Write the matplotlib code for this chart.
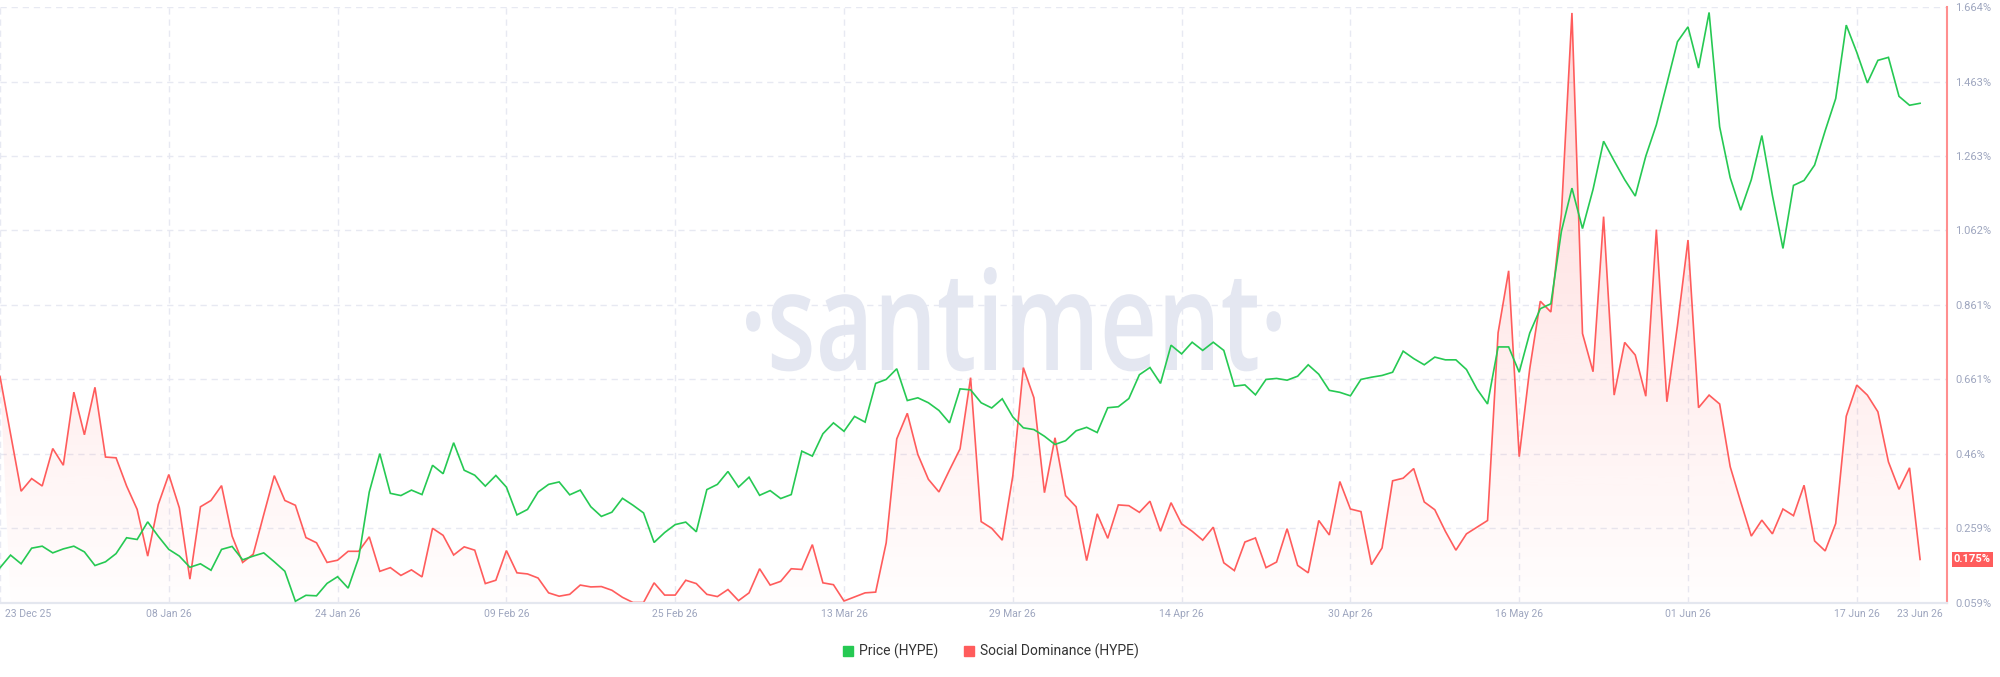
import numpy as np
import pandas as pd
import matplotlib
matplotlib.use('Agg')
import matplotlib.pyplot as plt
import matplotlib.dates as mdates
from matplotlib.patches import PathPatch
from matplotlib.path import Path
from matplotlib.textpath import TextPath
from matplotlib.font_manager import FontProperties
from matplotlib.transforms import Affine2D, blended_transform_factory
from matplotlib.colors import to_rgb

# daily values, 23 Dec 25 .. 23 Jun 26
start_date = '2025-12-23'
end_date = '2026-06-23'

price = [
    22.40, 22.91, 22.56, 23.19, 23.27, 23.00, 23.16, 23.27, 23.04, 22.49,
    22.64, 22.97, 23.61, 23.54, 24.25, 23.67, 23.14, 22.87, 22.42, 22.56,
    22.30, 23.14, 23.26, 22.72, 22.87, 23.00, 22.64, 22.26, 21.05, 21.29,
    21.27, 21.77, 22.04, 21.58, 22.80, 25.45, 27.00, 25.40, 25.31, 25.53,
    25.35, 26.53, 26.19, 27.44, 26.33, 26.13, 25.69, 26.12, 25.65, 24.53,
    24.75, 25.45, 25.76, 25.86, 25.34, 25.53, 24.86, 24.47, 24.64, 25.20,
    24.92, 24.61, 23.42, 23.82, 24.14, 24.24, 23.85, 25.55, 25.76, 26.28,
    25.65, 26.05, 25.32, 25.51, 25.19, 25.35, 27.10, 26.90, 27.80, 28.24,
    27.90, 28.50, 28.27, 29.83, 29.99, 30.42, 29.14, 29.25, 29.05, 28.74,
    28.24, 29.61, 29.57, 29.05, 28.84, 29.21, 28.48, 28.04, 27.97, 27.70,
    27.37, 27.52, 27.92, 28.06, 27.85, 28.85, 28.89, 29.22, 30.18, 30.47,
    29.83, 31.37, 31.02, 31.49, 31.16, 31.49, 31.16, 29.72, 29.77, 29.37,
    29.99, 30.03, 29.96, 30.12, 30.58, 30.20, 29.55, 29.47, 29.33, 29.99,
    30.08, 30.15, 30.28, 31.13, 30.83, 30.58, 30.89, 30.78, 30.78, 30.39,
    29.60, 29.00, 31.30, 31.30, 30.28, 31.86, 32.84, 33.04, 35.96, 37.70,
    36.07, 37.65, 39.59, 38.80, 38.04, 37.38, 38.99, 40.25, 41.91, 43.60,
    44.20, 42.54, 44.78, 40.17, 38.12, 36.81, 38.04, 39.82, 37.41, 35.27,
    37.81, 38.01, 38.63, 40.01, 41.31, 44.27, 43.17, 41.94, 42.85, 42.97,
    41.40, 41.04, 41.12,
]

dominance = [
    0.668, 0.514, 0.359, 0.393, 0.373, 0.474, 0.429, 0.626, 0.511, 0.639,
    0.451, 0.449, 0.373, 0.310, 0.184, 0.323, 0.404, 0.314, 0.122, 0.317,
    0.334, 0.374, 0.238, 0.167, 0.189, 0.296, 0.401, 0.334, 0.321, 0.234,
    0.220, 0.167, 0.173, 0.197, 0.197, 0.236, 0.143, 0.153, 0.132, 0.147,
    0.128, 0.259, 0.240, 0.187, 0.209, 0.200, 0.110, 0.119, 0.199, 0.139,
    0.136, 0.125, 0.085, 0.076, 0.081, 0.106, 0.101, 0.102, 0.092, 0.073,
    0.059, 0.059, 0.112, 0.079, 0.079, 0.119, 0.110, 0.081, 0.075, 0.094,
    0.064, 0.085, 0.150, 0.106, 0.116, 0.150, 0.148, 0.215, 0.112, 0.107,
    0.063, 0.074, 0.085, 0.087, 0.220, 0.500, 0.569, 0.458, 0.391, 0.357,
    0.416, 0.473, 0.665, 0.277, 0.259, 0.227, 0.400, 0.692, 0.611, 0.355,
    0.503, 0.347, 0.317, 0.172, 0.298, 0.232, 0.322, 0.320, 0.302, 0.332,
    0.251, 0.328, 0.271, 0.251, 0.227, 0.262, 0.166, 0.145, 0.222, 0.233,
    0.153, 0.168, 0.258, 0.159, 0.139, 0.280, 0.241, 0.385, 0.311, 0.304,
    0.161, 0.206, 0.387, 0.394, 0.420, 0.330, 0.309, 0.251, 0.200, 0.244,
    0.262, 0.280, 0.786, 0.953, 0.452, 0.689, 0.871, 0.842, 1.106, 1.648,
    0.784, 0.681, 1.099, 0.618, 0.760, 0.726, 0.615, 1.064, 0.600, 0.805,
    1.036, 0.584, 0.618, 0.594, 0.425, 0.330, 0.238, 0.281, 0.244, 0.311,
    0.293, 0.375, 0.225, 0.198, 0.272, 0.561, 0.645, 0.618, 0.573, 0.438,
    0.364, 0.422, 0.175,
]

dom_ticks = [0.059, 0.259, 0.46, 0.661, 0.861, 1.062, 1.263, 1.463, 1.664]
dom_labels = ['0.059%', '0.259%', '0.46%', '0.661%', '0.861%', '1.062%', '1.263%', '1.463%', '1.664%']
grid_dates = ['2026-01-08', '2026-01-24', '2026-02-09', '2026-02-25', '2026-03-13',
              '2026-03-29', '2026-04-14', '2026-04-30', '2026-05-16', '2026-06-01', '2026-06-17']
series_names = ['Price (HYPE)', 'Social Dominance (HYPE)']

GREEN = '#26c953'
RED = '#ff5c5c'
GRID = '#e7e9f2'
TICK = '#9ea6bf'

plt.rcParams['font.family'] = ['Roboto', 'DejaVu Sans']

x = mdates.date2num(pd.date_range(start_date, periods=len(price)))
x0 = x[0]
x_end = x0 + 184.55

fig = plt.figure(figsize=(20, 6.77), dpi=100)
ax = fig.add_axes([0.0, 0.11004, 0.9735, 0.87962])
ax.set_facecolor('white')

# grid
for v in dom_ticks[1:]:
    ax.axhline(v, color=GRID, lw=1, dashes=(4.5, 3.5), zorder=0.4)
ax.axvline(x0, color=GRID, lw=1, dashes=(4.5, 3.5), zorder=0.4)
for d in grid_dates:
    ax.axvline(mdates.date2num(pd.Timestamp(d)), color=GRID, lw=1, dashes=(4.5, 3.5), zorder=0.4)

# watermark
fp = FontProperties(family='Open Sans', weight='semibold')
tp = TextPath((0, 0), '\u00b7santiment\u00b7', size=100, prop=fp)
ext = tp.get_extents()
sx = 535 / ext.width
sy = 103 / ext.y1
tr = Affine2D().translate(-ext.x0, 0).scale(sx, sy).translate(746, 677 - 370)
ax.add_patch(PathPatch(tp, transform=tr, fc='#e4e7f1', ec='none', zorder=0.5))

# gradient fill under social dominance
ymin, ymax = dom_ticks[0], dom_ticks[-1]
grad = np.zeros((256, 1, 4))
grad[..., :3] = to_rgb(RED)
grad[:, 0, 3] = np.linspace(0.24, 0.01, 256)
im = ax.imshow(grad, extent=[x0, x[-1], ymin, ymax], origin='upper',
               aspect='auto', interpolation='bilinear', zorder=1)
verts = np.column_stack([np.r_[x, x[::-1]],
                         np.r_[dominance, np.full(len(x), ymin)]])
im.set_clip_path(Path(verts, closed=True), ax.transData)

ax.plot(x, dominance, color=RED, lw=1.2, zorder=2, solid_joinstyle='miter')

# price on hidden axis
ax2 = ax.twinx()
ax2.plot(x, price, color=GREEN, lw=1.2, zorder=3, solid_joinstyle='miter')
ax2.set_ylim(21.0, 45.0)
ax2.set_xlim(x0, x_end)
ax2.axis('off')

ax.set_xlim(x0, x_end)
ax.set_ylim(ymin, ymax)
ax.yaxis.tick_right()
ax.yaxis.set_label_position('right')
ax.set_yticks(dom_ticks)
ax.set_yticklabels(dom_labels)
ax.tick_params(axis='y', which='both', left=False, labelleft=False, right=True, labelright=True,
               length=0, pad=6, labelsize=8, labelcolor=TICK)
ax.set_xticks([])

for s in ['top', 'left']:
    ax.spines[s].set_visible(False)
ax.spines['bottom'].set_color('#e4e7ef')
ax.spines['bottom'].set_linewidth(1.6)
ax.spines['right'].set_color('#ff8f8f')
ax.spines['right'].set_linewidth(1.5)

# date labels
bt = blended_transform_factory(ax.transData, ax.transAxes)
ly = -11.5 / 595.5
ax.text(x0 + 5 / 10.55, ly, pd.Timestamp(start_date).strftime('%d %b %y'), transform=bt,
        ha='left', va='center', fontsize=7.5, color=TICK)
for d in grid_dates:
    ax.text(mdates.date2num(pd.Timestamp(d)), ly, pd.Timestamp(d).strftime('%d %b %y'),
            transform=bt, ha='center', va='center', fontsize=7.5, color=TICK)
ax.text(x0 + 1920 / 10.55, ly, pd.Timestamp(end_date).strftime('%d %b %y'),
        transform=bt, ha='center', va='center', fontsize=7.5, color=TICK)

# current value badge
bb = blended_transform_factory(ax.transAxes, ax.transData)
ax.text(1.0 + 7 / 1947, dominance[-1], '%.3f%%' % dominance[-1], transform=bb,
        ha='left', va='center', fontsize=8, color='white', fontweight='bold',
        bbox=dict(boxstyle='square,pad=0.22', fc=RED, ec='none'), zorder=5, clip_on=False)

# legend
ly2 = 1 - 651 / 677
fig.add_artist(plt.Line2D([848 / 2000], [ly2], marker='s', markersize=6.5, color=GREEN,
                          lw=0, transform=fig.transFigure))
fig.text(859 / 2000, ly2, series_names[0], ha='left', va='center', fontsize=10, color='#333333')
fig.add_artist(plt.Line2D([969 / 2000], [ly2], marker='s', markersize=6.5, color=RED,
                          lw=0, transform=fig.transFigure))
fig.text(980 / 2000, ly2, series_names[1], ha='left', va='center', fontsize=10, color='#333333')

fig.savefig('out.png', dpi=100)
